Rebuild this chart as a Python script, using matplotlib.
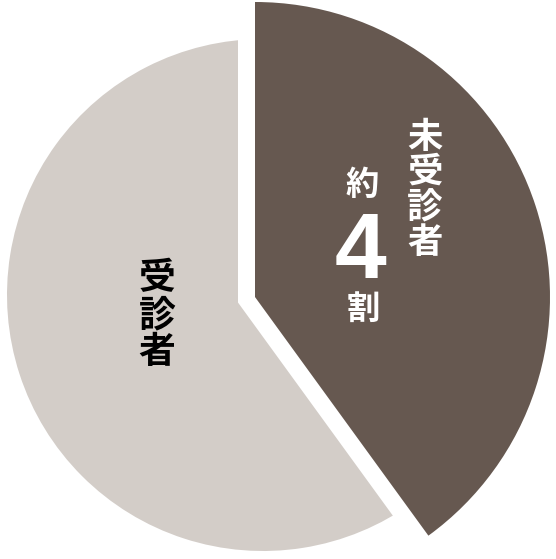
import matplotlib
matplotlib.use("Agg")
import matplotlib.pyplot as plt

# Data
categories = ["未受診者", "受診者"]
shares = [40, 60]
big_label_top = "約"
big_label_num = "4"
big_label_bottom = "割"

dark = "#665850"
light = "#d3cdc8"

W, H = 556, 559
fig = plt.figure(figsize=(W / 100, H / 100), dpi=100)
ax = fig.add_axes([0, 0, 1, 1])

# light slice (受診者)
w_light, _ = ax.pie(shares, startangle=90, counterclock=False,
                    center=(263, H - 295), radius=256,
                    colors=["none", light],
                    wedgeprops=dict(linewidth=0))
for w in w_light:
    w.set_zorder(1)

# dark slice with white gap stroke
gap_px = 17
w_gap, _ = ax.pie(shares, startangle=90, counterclock=False,
                  center=(255, H - 297), radius=295,
                  colors=[dark, "none"],
                  wedgeprops=dict(linewidth=2 * gap_px * 72 / 100,
                                  edgecolor="white", joinstyle="miter"))
w_gap[1].set_visible(False)
for w in w_gap:
    w.set_zorder(2)

w_dark, _ = ax.pie(shares, startangle=90, counterclock=False,
                   center=(255, H - 297), radius=295,
                   colors=[dark, "none"],
                   wedgeprops=dict(linewidth=0))
w_dark[1].set_visible(False)
for w in w_dark:
    w.set_zorder(3)

ax.set_xlim(0, W)
ax.set_ylim(0, H)
ax.set_aspect("auto")
ax.axis("off")

jp = ["Noto Sans CJK JP", "DejaVu Sans"]

ax.text(157, H - 316, "\n".join(categories[1]), ha="center", va="center",
        fontsize=26.5, fontweight="bold", family=jp, color="black",
        linespacing=1.0, zorder=5)

ax.text(425, H - 190, "\n".join(categories[0]), ha="center", va="center",
        fontsize=25.5, fontweight="bold", family=jp, color="white",
        linespacing=1.0, zorder=5)

ax.text(362, H - 185, big_label_top, ha="center", va="center",
        fontsize=24, fontweight="bold", family=jp, color="white", zorder=5)
ax.text(361, H - 278, big_label_num, ha="center", va="baseline",
        fontsize=67, fontweight="bold", family=["Liberation Sans", "DejaVu Sans"],
        color="white", zorder=5)
ax.text(363, H - 309, big_label_bottom, ha="center", va="center",
        fontsize=24, fontweight="bold", family=jp, color="white", zorder=5)

fig.savefig("out.png", dpi=100, facecolor="white")
